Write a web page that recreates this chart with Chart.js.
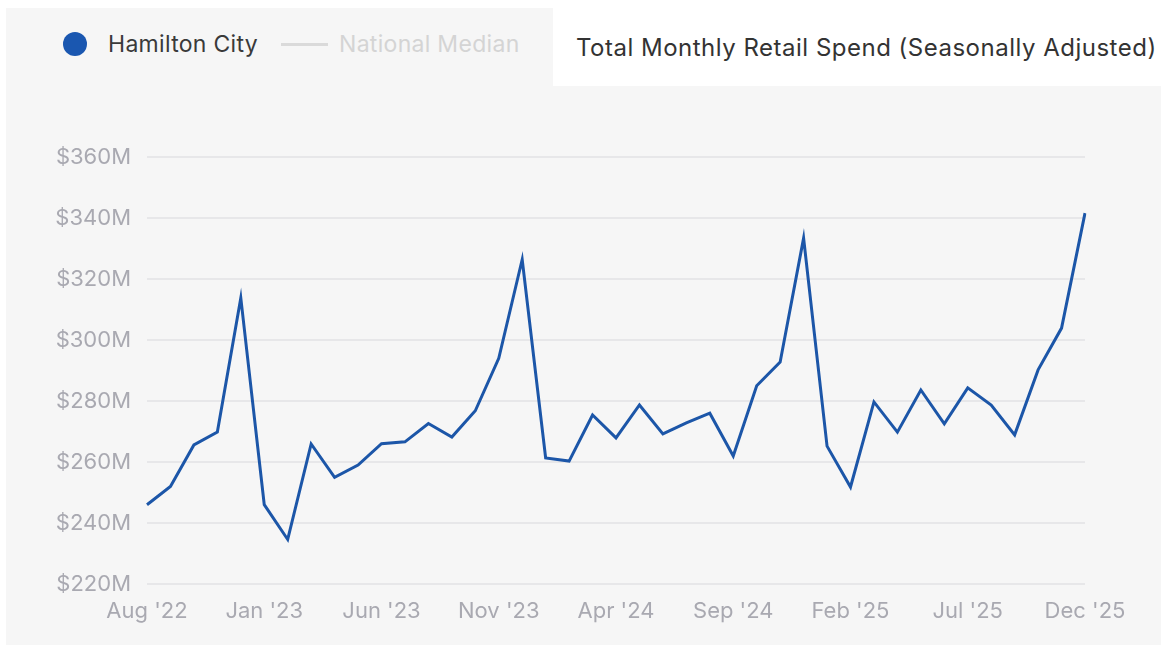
<!DOCTYPE html>
<html>
<head>
<meta charset="utf-8">
<script src="https://cdn.jsdelivr.net/npm/chart.js@4"></script>
<style>
  body { margin:0; background:#fff; font-family:Inter, "Noto Sans", sans-serif; }
  #panel { position:absolute; left:6px; top:8px; width:1155px; height:637px; background:#f6f6f6; }
  #titlebox { position:absolute; left:553px; top:0; width:608px; height:86px; background:#fff; }
  #title { position:absolute; left:576px; top:33px; font-size:24px; letter-spacing:0.5px; color:#333; white-space:nowrap; line-height:30px; }
  .leg { position:absolute; top:29px; font-size:23px; letter-spacing:0.3px; line-height:30px; white-space:nowrap; }
  #dot { position:absolute; left:63px; top:32px; width:24px; height:24px; border-radius:50%; background:#1a57b0; }
  #dash { position:absolute; left:281px; top:43px; width:47px; height:3px; background:#dadada; }
  #wrap { position:absolute; left:0; top:0; width:1161px; height:646px; }
</style>
</head>
<body>
<div id="panel"></div>
<div id="titlebox"></div>
<div id="title">Total Monthly Retail Spend (Seasonally Adjusted)</div>
<div id="dot"></div>
<div class="leg" style="left:108px;color:#3a3a3a">Hamilton City</div>
<div id="dash"></div>
<div class="leg" style="left:339px;color:#d4d4d4">National Median</div>
<div id="wrap"><canvas id="spend"></canvas></div>
<script>
//-----------------Data
const months = ["Aug '22","Sep '22","Oct '22","Nov '22","Dec '22",
  "Jan '23","Feb '23","Mar '23","Apr '23","May '23","Jun '23","Jul '23","Aug '23","Sep '23","Oct '23","Nov '23","Dec '23",
  "Jan '24","Feb '24","Mar '24","Apr '24","May '24","Jun '24","Jul '24","Aug '24","Sep '24","Oct '24","Nov '24","Dec '24",
  "Jan '25","Feb '25","Mar '25","Apr '25","May '25","Jun '25","Jul '25","Aug '25","Sep '25","Oct '25","Nov '25","Dec '25"]
// Hamilton City, $M
const hamilton = [246,252,265.6,269.8,313.8,
  246,234.6,265.9,255,259,266,266.6,272.6,268.2,276.8,294,326.4,
  261.3,260.3,275.4,267.9,278.7,269.2,272.8,276,262,285,292.8,333.4,
  265.2,251.8,279.7,269.8,283.6,272.5,284.3,278.7,268.9,290.2,303.9,341.6]
const yMin = 220
const yMax = 360
const yStep = 20
const labelEvery = 5

const ctx = document.getElementById('spend').getContext('2d')
const tickFont = { family:'Inter', size:22 }

GraphSpend = new Chart(ctx, {
  type: 'line',
  data: {
    labels: months,
    datasets: [{
      label: 'Hamilton City',
      data: hamilton,
      borderColor: '#1c56a8',
      borderWidth: 3,
      pointRadius: 0,
      tension: 0,
      fill: false
    }]
  },
  options: {
    responsive: true,
    maintainAspectRatio: false,
    animation: false,
    layout: { padding: { left: 0, right: 76, top: 157, bottom: 0 } },
    plugins: { legend: { display:false }, tooltip: { enabled:false } },
    scales: {
      x: {
        grid: { display:false, drawTicks:false },
        border: { display:false },
        afterFit: (s) => { s.height = 62 },
        ticks: {
          autoSkip: false,
          maxRotation: 0,
          padding: 14,
          color: '#a9a9b1',
          font: tickFont,
          callback: function(v, i){ return i % labelEvery === 0 ? months[i] : '' }
        }
      },
      y: {
        min: yMin,
        max: yMax,
        grid: { color:'#e7e7e9', lineWidth:2, drawTicks:false },
        border: { display:false },
        afterFit: (s) => { s.width = 147 },
        ticks: {
          stepSize: yStep,
          padding: 16,
          color: '#a9a9b1',
          font: tickFont,
          callback: (v) => '$' + v + 'M'
        }
      }
    }
  }
})
</script>
</body>
</html>
